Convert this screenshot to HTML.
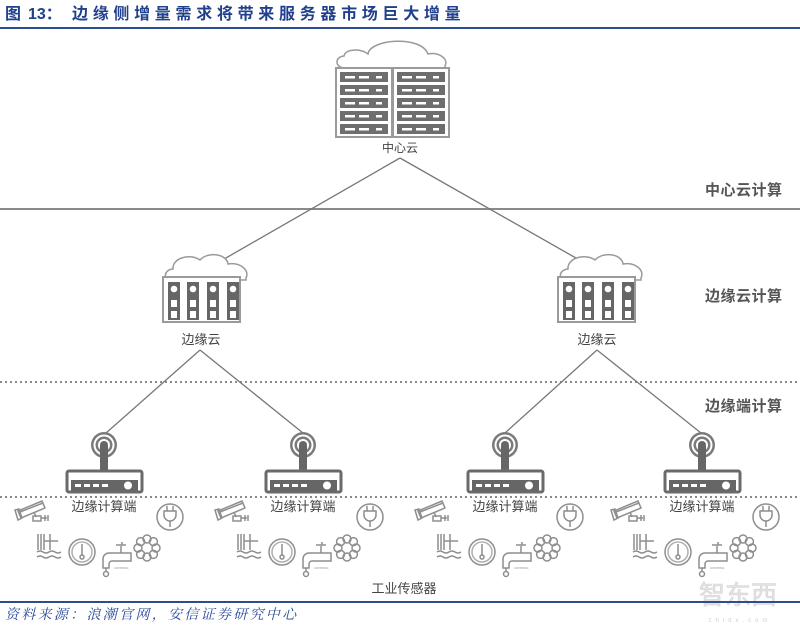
<!DOCTYPE html>
<html><head><meta charset="utf-8"><style>
html,body{margin:0;padding:0;background:#fff;}
svg{display:block;}
text{font-family:"Liberation Sans","Noto Sans CJK SC",sans-serif;}
</style></head><body>
<svg width="800" height="629" viewBox="0 0 800 629" xmlns="http://www.w3.org/2000/svg">
<defs>
  <g id="bar5">
    <rect x="0" y="0" width="48" height="10" fill="#6e6e6e"/>
    <rect x="5" y="4" width="10" height="2.5" fill="#fff"/>
    <rect x="19" y="4" width="10" height="2.5" fill="#fff"/>
    <rect x="36" y="4" width="6" height="2.5" fill="#fff"/>
  </g>
  <g id="rack">
    <rect x="0" y="0" width="56" height="69" fill="#fff" stroke="#9a9a9a" stroke-width="2"/>
    <use href="#bar5" x="4" y="4"/>
    <use href="#bar5" x="4" y="17"/>
    <use href="#bar5" x="4" y="30"/>
    <use href="#bar5" x="4" y="43"/>
    <use href="#bar5" x="4" y="56"/>
  </g>
  <g id="col">
    <rect x="0" y="0" width="12" height="38" fill="#666"/>
    <circle cx="6" cy="7" r="3.3" fill="#fff"/>
    <rect x="3" y="18" width="6" height="7" fill="#fff"/>
    <rect x="3" y="29" width="6" height="7" fill="#fff"/>
  </g>
  <g id="edgecloud">
    <path d="M172,280 C163,280 163,270 173,269 C172,258 190,253 200,260 C208,251 227,254 228,264 C240,262 250,270 246,278 L246,280 Z" fill="#fff" stroke="#9a9a9a" stroke-width="1.5"/>
    <rect x="163" y="277" width="77" height="45" fill="#fff" stroke="#9a9a9a" stroke-width="2"/>
    <use href="#col" x="168" y="282"/>
    <use href="#col" x="187" y="282"/>
    <use href="#col" x="207" y="282"/>
    <use href="#col" x="227" y="282"/>
  </g>
  <g id="router">
    <circle cx="0" cy="445" r="13" fill="#7a7a7a"/>
    <circle cx="0" cy="445" r="10.5" fill="#fff"/>
    <circle cx="0" cy="445" r="8.5" fill="#7a7a7a"/>
    <circle cx="0" cy="445" r="6" fill="#fff"/>
    <circle cx="0" cy="445" r="4" fill="#666"/>
    <rect x="-4" y="446" width="8" height="25" fill="#666"/>
    <rect x="-37" y="471" width="75" height="21" rx="2" fill="#fff" stroke="#6a6a6a" stroke-width="3"/>
    <rect x="-33" y="480" width="67" height="11" fill="#666"/>
    <rect x="-29" y="484" width="6" height="3" fill="#fff"/>
    <rect x="-20" y="484" width="6" height="3" fill="#fff"/>
    <rect x="-11" y="484" width="6" height="3" fill="#fff"/>
    <rect x="-2" y="484" width="6" height="3" fill="#fff"/>
    <circle cx="24" cy="485.5" r="4" fill="#fff"/>
  </g>
  <g id="sensors" fill="none" stroke="#8e8e8e" stroke-width="1.5">
    <!-- camera -->
    <polygon points="18,511 42,501 45,508 21,518"/>
    <line x1="20" y1="512" x2="43" y2="503"/>
    <polygon points="15,510 19,509 22,518 18,520"/>
    <line x1="34" y1="512" x2="36" y2="517"/>
    <rect x="33" y="516" width="8" height="5"/>
    <path d="M41,518 L47,518 M45,515 L45,521 M48,515 L48,521"/>
    <!-- plug -->
    <circle cx="170" cy="517" r="13"/>
    <path d="M164,511 v4 a6,6 0 0 0 12,0 v-4 z"/>
    <path d="M167,506 v5 M173,506 v5 M170,521 v6"/>
    <!-- water level -->
    <path d="M38,534 v16 M41,534 v16 M44,534 v16 M50,534 v16 M44,541 h14"/>
    <path d="M37,552 q3,-2 6,0 t6,0 t6,0 t6,0 M37,557 q3,-2 6,0 t6,0 t6,0 t6,0"/>
    <!-- thermometer -->
    <circle cx="82" cy="552" r="13"/>
    <circle cx="82" cy="552" r="10" stroke="#b0b0b0"/>
    <path d="M82,544 v11"/>
    <circle cx="82" cy="557" r="2"/>
    <!-- tap -->
    <path d="M103,568 v-9 a6,6 0 0 1 6,-6 h22 v8 h-19 a3,3 0 0 0 -3,3 v4 z"/>
    <path d="M121,553 v-7 M116,545 h10 M122,542 v3"/>
    <path d="M106,568 v4"/>
    <circle cx="106" cy="574" r="2.5"/>
    <!-- snowflake -->
    <circle cx="147" cy="539" r="4"/>
    <circle cx="147" cy="557" r="4"/>
    <circle cx="138" cy="548" r="4"/>
    <circle cx="156" cy="548" r="4"/>
    <circle cx="140.6" cy="541.6" r="4"/>
    <circle cx="153.4" cy="541.6" r="4"/>
    <circle cx="140.6" cy="554.4" r="4"/>
    <circle cx="153.4" cy="554.4" r="4"/>
  </g>
</defs>

<!-- Title -->
<text x="5" y="19" font-size="16" font-weight="bold" fill="#203f8c">图</text>
<text x="28" y="19" font-size="16" font-weight="bold" fill="#203f8c">13：</text>
<text x="72" y="19" font-size="16" font-weight="bold" fill="#203f8c" letter-spacing="4.7">边缘侧增量需求将带来服务器市场巨大增量</text>
<rect x="0" y="27" width="800" height="2" fill="#2c4d8f"/>

<!-- Layer lines -->
<rect x="0" y="208" width="800" height="2" fill="#8a8a8a"/>
<line x1="0" y1="382" x2="800" y2="382" stroke="#8a8a8a" stroke-width="2" stroke-dasharray="2,3"/>
<line x1="0" y1="497" x2="800" y2="497" stroke="#8a8a8a" stroke-width="2" stroke-dasharray="2,3"/>

<!-- Layer labels -->
<text x="705" y="195" font-size="15" font-weight="bold" fill="#555" letter-spacing="0.5">中心云计算</text>
<text x="705" y="301" font-size="15" font-weight="bold" fill="#555" letter-spacing="0.5">边缘云计算</text>
<text x="705" y="411" font-size="15" font-weight="bold" fill="#555" letter-spacing="0.5">边缘端计算</text>

<!-- Connectors -->
<g stroke="#777" stroke-width="1.3">
  <line x1="400" y1="158" x2="212" y2="266"/>
  <line x1="400" y1="158" x2="590" y2="266"/>
  <line x1="200" y1="350" x2="106" y2="433"/>
  <line x1="200" y1="350" x2="303" y2="433"/>
  <line x1="597" y1="350" x2="505" y2="433"/>
  <line x1="597" y1="350" x2="701" y2="433"/>
</g>

<!-- Center cloud -->
<path d="M345,68 C335,68 334,57 344,56 C345,49 360,48 368,54 C370,39 421,35 428,54 C438,52 449,58 445,66 L445,68 Z" fill="#fff" stroke="#9a9a9a" stroke-width="1.5"/>
<use href="#rack" x="336" y="68"/>
<use href="#rack" x="393" y="68"/>
<text x="400" y="152" font-size="12" fill="#444" text-anchor="middle">中心云</text>

<!-- Edge clouds -->
<use href="#edgecloud" x="0" y="0"/>
<use href="#edgecloud" x="395" y="0"/>
<text x="201" y="344" font-size="13" fill="#444" text-anchor="middle">边缘云</text>
<text x="597" y="344" font-size="13" fill="#444" text-anchor="middle">边缘云</text>

<!-- Routers -->
<use href="#router" x="104" y="0"/>
<use href="#router" x="303" y="0"/>
<use href="#router" x="505" y="0"/>
<use href="#router" x="702" y="0"/>
<text x="104" y="511" font-size="13" fill="#444" text-anchor="middle">边缘计算端</text>
<text x="303" y="511" font-size="13" fill="#444" text-anchor="middle">边缘计算端</text>
<text x="505" y="511" font-size="13" fill="#444" text-anchor="middle">边缘计算端</text>
<text x="702" y="511" font-size="13" fill="#444" text-anchor="middle">边缘计算端</text>

<!-- Sensors -->
<use href="#sensors" x="0" y="0"/>
<use href="#sensors" x="200" y="0"/>
<use href="#sensors" x="400" y="0"/>
<use href="#sensors" x="596" y="0"/>
<g font-size="3" fill="#888">
  <text x="114" y="569">CONTROL</text>
  <text x="314" y="569">CONTROL</text>
  <text x="514" y="569">CONTROL</text>
  <text x="710" y="569">CONTROL</text>
</g>

<text x="404" y="593" font-size="13" fill="#444" text-anchor="middle">工业传感器</text>

<!-- Watermark -->
<text x="738" y="604" font-size="26" fill="#e2e2e2" text-anchor="middle" stroke="#d6d6d6" stroke-width="0.6">智东西</text>
<text x="740" y="622" font-size="6" fill="#cfcfcf" text-anchor="middle" letter-spacing="4">zhidx.com</text>

<!-- Bottom line and source -->
<rect x="0" y="601" width="800" height="2" fill="#2c4d8f"/>
<text x="5" y="619" font-size="14" font-style="italic" fill="#2a4a9a" letter-spacing="2.3" style="font-family:'Liberation Serif','Noto Serif CJK SC',serif;">资料来源：浪潮官网，安信证券研究中心</text>
</svg>
</body></html>
